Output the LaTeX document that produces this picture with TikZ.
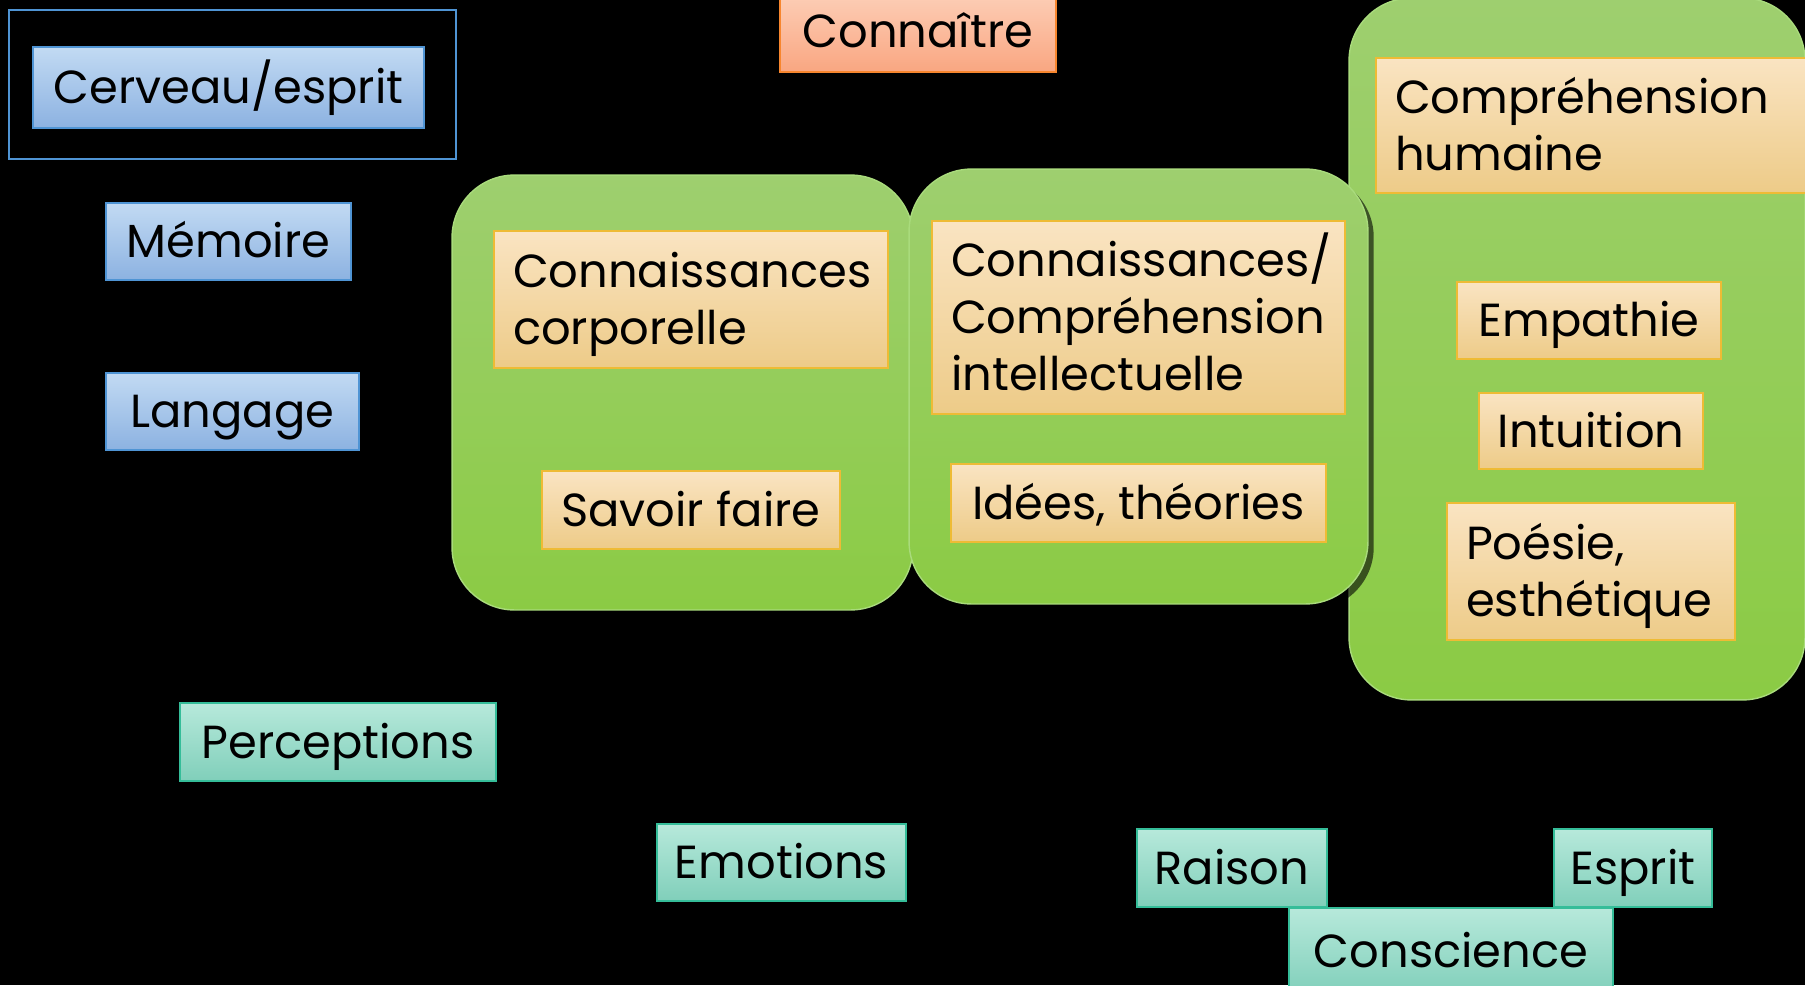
\documentclass[tikz,border=0pt]{standalone}
\usepackage{fontspec}
\setmainfont{Poppins}
\usetikzlibrary{shadows}
\definecolor{blueTop}{HTML}{C2DAF3}
\definecolor{blueBot}{HTML}{8CB2E1}
\definecolor{blueLine}{HTML}{4F94D4}
\definecolor{tealTop}{HTML}{B7E9DB}
\definecolor{tealBot}{HTML}{80CFBA}
\definecolor{tealLine}{HTML}{35BD99}
\definecolor{sandTop}{HTML}{FAE4C2}
\definecolor{sandBot}{HTML}{EDCB88}
\definecolor{sandLine}{HTML}{EEBB35}
\definecolor{peachTop}{HTML}{FDD0B9}
\definecolor{peachBot}{HTML}{F9A681}
\definecolor{peachLine}{HTML}{F7862E}
\definecolor{leafTop}{HTML}{9ECF6F}
\definecolor{leafBot}{HTML}{8BCB44}
\definecolor{leafLine}{HTML}{A9DB7C}

\tikzset{
  every node/.style={font=\fontsize{26.4}{32.5}\selectfont, text=black, text height=25pt, text depth=6.6pt},
  mind/.style={rectangle, draw=blueLine, line width=1.3pt, top color=blueTop, bottom color=blueBot},
  sense/.style={rectangle, draw=tealLine, line width=1.3pt, top color=tealTop, bottom color=tealBot},
  know/.style={rectangle, draw=sandLine, line width=1.3pt, top color=sandTop, bottom color=sandBot},
  title/.style={rectangle, draw=peachLine, line width=1.3pt, top color=peachTop, bottom color=peachBot},
  field/.style={rectangle, rounded corners=1.25cm, draw=leafLine, line width=0.8pt, top color=leafTop, bottom color=leafBot,
    drop shadow={shadow xshift=0.6ex, shadow yshift=-0.6ex, fill=black, opacity=0.6}},
  multi/.style={align=left, inner xsep=0.38cm},
  two/.style={text depth=39.1pt},
  three/.style={text depth=71.6pt}
}

\begin{document}
\begin{tikzpicture}[x=0.02cm, y=-0.02cm]
		\fill[black] (0,0) rectangle (1805,985);
		\useasboundingbox (0,0) rectangle (1805,985);
		%%%%%%%%%%%%%
		% green fields
		\node[field, minimum width=9.12cm, minimum height=14.04cm] (human) at (1577, 349) {};
		\node[field, minimum width=9.22cm, minimum height=8.7cm] (body) at (682.5, 392.5) {};
		\node[field, minimum width=9.18cm, minimum height=8.7cm] (intel) at (1138.5, 386.5) {};
		%%%%%%%%%%%%%
		% left column
		\node[draw=blueLine, line width=1.3pt, minimum width=8.94cm, minimum height=2.98cm] (frame) at (232.5, 84.5) {};
		\node[mind, minimum width=7.82cm, minimum height=1.62cm] (cerveau) at (228.5, 87.5) {Cerveau/esprit};
		\node[mind, minimum width=4.9cm, minimum height=1.54cm] (memoire) at (228.5, 241.5) {Mémoire};
		\node[mind, minimum width=5.06cm, minimum height=1.54cm] (langage) at (232.5, 411.5) {Langage};
		\node[title, minimum width=5.52cm, minimum height=1.64cm] (connaitre) at (918, 31) {Connaître};
		%%%%%%%%%%%%%
		% inside the fields
		\node[know, multi, two, text width=7.12cm, minimum height=2.74cm] (corpo) at (691, 299.5) {Connaissances\\corporelle};
		\node[know, minimum width=5.96cm, minimum height=1.56cm] (savoir) at (691, 510) {Savoir faire};
		\node[know, multi, three, text width=7.5cm, minimum height=3.86cm] (intellect) at (1138.5, 317.5) {Connaissances/\\Compréhension\\intellectuelle};
		\node[know, minimum width=7.5cm, minimum height=1.56cm] (idees) at (1138.5, 503) {Idées, théories};
		\node[know, multi, two, text width=7.88cm, minimum height=2.7cm] (humaine) at (1592, 125.5) {Compréhension\\humaine};
		\node[know, minimum width=5.28cm, minimum height=1.54cm] (empathie) at (1589, 320.5) {Empathie};
		\node[know, minimum width=4.48cm, minimum height=1.52cm] (intuition) at (1591, 431) {Intuition};
		\node[know, multi, two, text width=5.0cm, minimum height=2.74cm] (poesie) at (1591, 571.5) {Poésie,\\esthétique};
		%%%%%%%%%%%%%
		% bottom row
		\node[sense, minimum width=6.32cm, minimum height=1.56cm] (perceptions) at (338, 742) {Perceptions};
		\node[sense, minimum width=4.98cm, minimum height=1.54cm] (emotions) at (781.5, 862.5) {Emotions};
		\node[sense, minimum width=3.8cm, minimum height=1.56cm] (raison) at (1232, 868) {Raison};
		\node[sense, minimum width=3.16cm, minimum height=1.56cm] (esprit) at (1633, 868) {Esprit};
		\node[sense, minimum width=6.48cm, minimum height=1.74cm] (conscience) at (1451, 951.5) {Conscience};
\end{tikzpicture}
\end{document}
